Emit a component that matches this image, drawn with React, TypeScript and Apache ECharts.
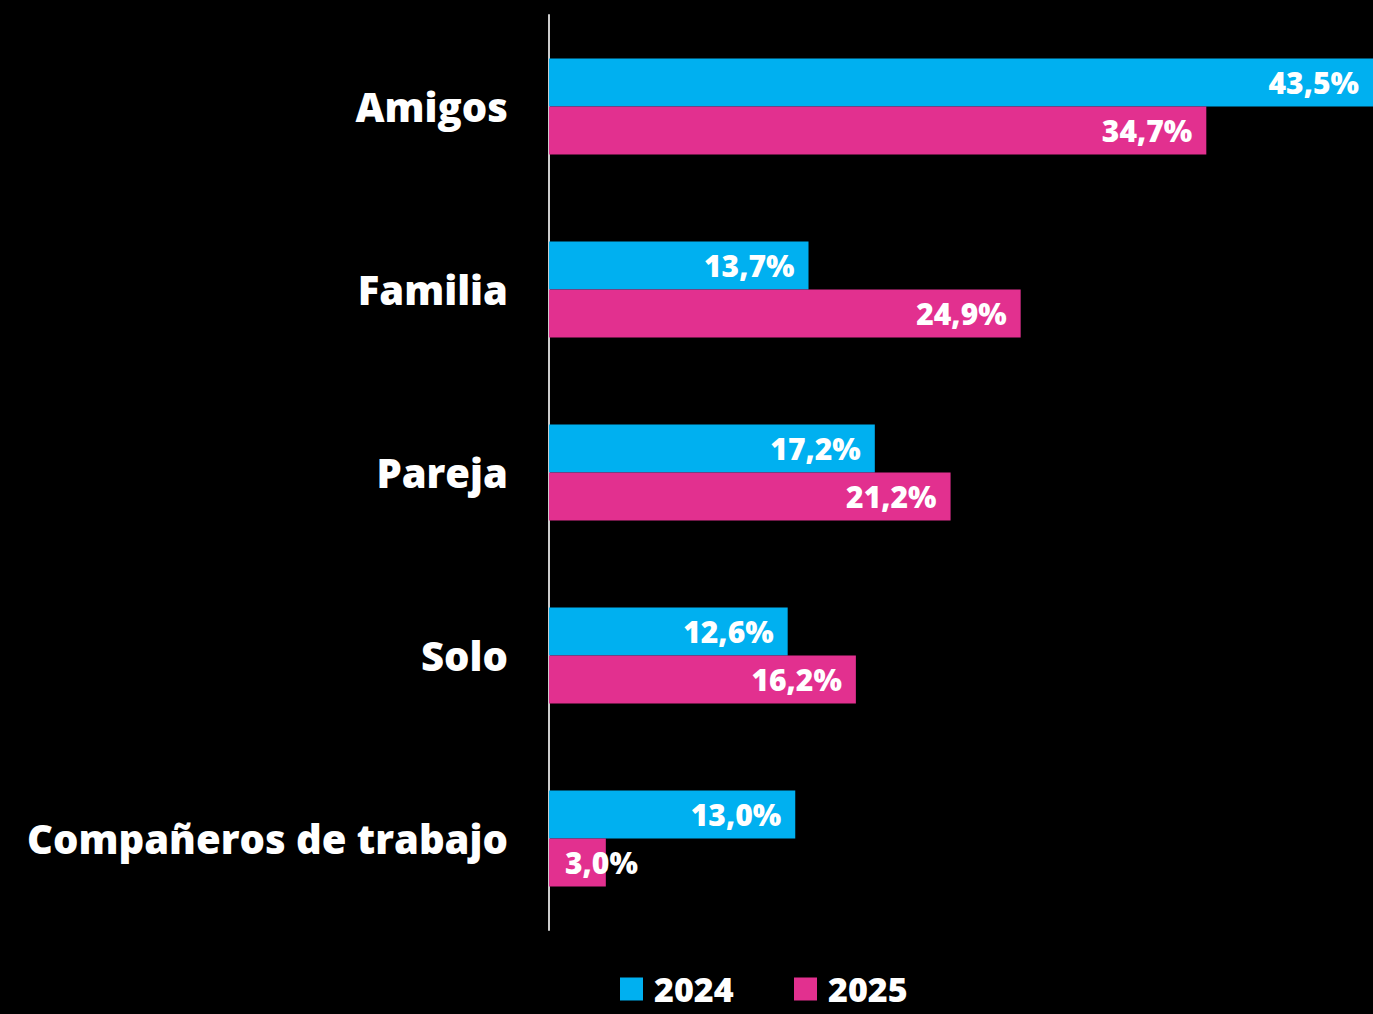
import React, { useEffect, useRef } from "react";
import * as echarts from "echarts";

const categories = ["Amigos", "Familia", "Pareja", "Solo", "Compañeros de trabajo"];
const values2024 = [43.5, 13.7, 17.2, 12.6, 13.0];
const values2025 = [34.7, 24.9, 21.2, 16.2, 3.0];
const seriesNames = ["2024", "2025"];
const colors = ["#00B0F0", "#E2308F"];

const FONT = "Open Sans";

export default function App() {
  const ref = useRef<HTMLDivElement>(null);
  useEffect(() => {
    document.body.style.margin = "0";
    document.body.style.background = "#000";
    const chart = echarts.init(ref.current!, null, { renderer: "svg" });
    const fmt = (p: any) => p.value.toFixed(1).replace(".", ",") + "%";
    const labelBase = {
      show: true,
      position: "insideRight",
      distance: 14,
      color: "#fff",
      fontFamily: FONT,
      fontWeight: 800,
      fontSize: 30,
      formatter: fmt,
    };
    const mkData = (vals: number[]) =>
      vals.map((v) =>
        v < 6
          ? { value: v, label: { position: [16, "50%"], align: "left", verticalAlign: "middle" } }
          : v
      );
    chart.setOption({
      animation: false,
      backgroundColor: "#000",
      grid: { left: 549, right: 0, top: 15, bottom: 84, containLabel: false },
      xAxis: { type: "value", min: 0, max: 43.5, show: false },
      yAxis: {
        type: "category",
        data: categories,
        inverse: true,
        axisLine: { show: true, lineStyle: { color: "#cccccc", width: 2 } },
        axisTick: { show: false },
        axisLabel: {
          color: "#fff",
          fontFamily: FONT,
          fontWeight: 800,
          fontSize: 40,
          margin: 41,
        },
        splitLine: { show: false },
      },
      legend: {
        top: 972,
        left: 620,
        padding: 0,
        itemWidth: 23,
        itemHeight: 23,
        itemGap: 34,
        icon: "rect",
        textStyle: {
          color: "#fff",
          fontFamily: FONT,
          fontWeight: 800,
          fontSize: 34,
          lineHeight: 34,
          width: 106,
          padding: [0, 0, 0, 6],
        },
        data: seriesNames,
      },
      series: [
        {
          name: seriesNames[0],
          type: "bar",
          data: mkData(values2024),
          barWidth: 48,
          barGap: "0%",
          itemStyle: { color: colors[0] },
          label: labelBase,
          z: 2,
        },
        {
          name: seriesNames[1],
          type: "bar",
          data: mkData(values2025),
          barWidth: 48,
          barGap: "0%",
          itemStyle: { color: colors[1] },
          label: labelBase,
          z: 2,
        },
      ],
    });
    return () => chart.dispose();
  }, []);
  return <div ref={ref} style={{ position: "fixed", left: 0, top: 0, width: 1373, height: 1014 }} />;
}
